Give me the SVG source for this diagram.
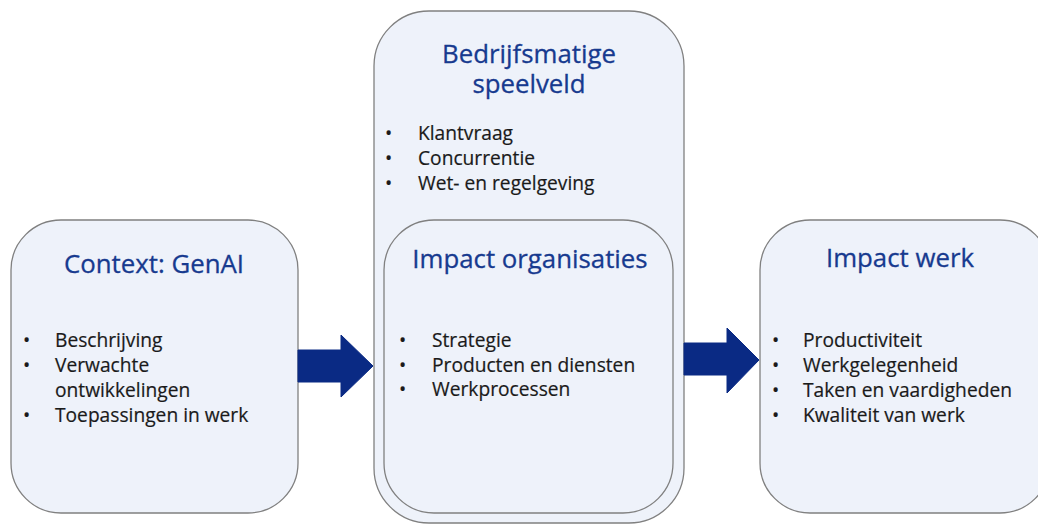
<svg xmlns="http://www.w3.org/2000/svg" width="1038" height="524" viewBox="0 0 1038 524">
<style>
.box{fill:#eef2fa;stroke:#808080;stroke-width:1.3}
.title{font-family:"Open Sans","Noto Sans",sans-serif;font-size:25.8px;fill:#173a8f;text-anchor:middle;stroke:#173a8f;stroke-width:0.3}
.item{font-family:"Open Sans","Noto Sans",sans-serif;font-size:19.2px;fill:#1a1a1a;stroke:#1a1a1a;stroke-width:0.2}
.arrow{fill:#0a2a84;stroke:#0a2a84;stroke-width:1}
</style>
<rect width="1038" height="524" fill="#ffffff"/>
<g id="context">
<rect class="box" x="11" y="220" width="287" height="293" rx="50"/>
<text class="title" x="154" y="273">Context: GenAI</text>
<text class="item"><tspan x="23" y="347">•</tspan><tspan x="55" y="347">Beschrijving</tspan><tspan x="23" y="372">•</tspan><tspan x="55" y="372">Verwachte</tspan><tspan x="55" y="397">ontwikkelingen</tspan><tspan x="23" y="422">•</tspan><tspan x="55" y="422">Toepassingen in werk</tspan></text>
</g>
<g id="speelveld">
<rect class="box" x="374" y="11" width="310" height="512" rx="55"/>
<text class="title"><tspan x="529" y="63">Bedrijfsmatige</tspan><tspan x="529" y="93">speelveld</tspan></text>
<text class="item"><tspan x="385" y="140">•</tspan><tspan x="418" y="140">Klantvraag</tspan><tspan x="385" y="165">•</tspan><tspan x="418" y="165">Concurrentie</tspan><tspan x="385" y="190">•</tspan><tspan x="418" y="190">Wet- en regelgeving</tspan></text>
</g>
<g id="organisaties">
<rect class="box" x="384" y="220" width="289" height="293" rx="50"/>
<text class="title" x="530" y="268">Impact organisaties</text>
<text class="item"><tspan x="399" y="347">•</tspan><tspan x="432" y="347">Strategie</tspan><tspan x="399" y="372">•</tspan><tspan x="432" y="372">Producten en diensten</tspan><tspan x="399" y="396">•</tspan><tspan x="432" y="396">Werkprocessen</tspan></text>
</g>
<g id="werk">
<rect class="box" x="760" y="220" width="290" height="293" rx="50"/>
<text class="title" x="900" y="267">Impact werk</text>
<text class="item"><tspan x="772" y="347">•</tspan><tspan x="803" y="347">Productiviteit</tspan><tspan x="772" y="372">•</tspan><tspan x="803" y="372">Werkgelegenheid</tspan><tspan x="772" y="397">•</tspan><tspan x="803" y="397">Taken en vaardigheden</tspan><tspan x="772" y="422">•</tspan><tspan x="803" y="422">Kwaliteit van werk</tspan></text>
</g>
<g id="connectors">
<polygon class="arrow" points="298,350 341,350 341,335 373,366 341,397 341,382 298,382"/>
<polygon class="arrow" points="684,343 727,343 727,328 759,360 727,393 727,375 684,375"/>
</g>
</svg>
